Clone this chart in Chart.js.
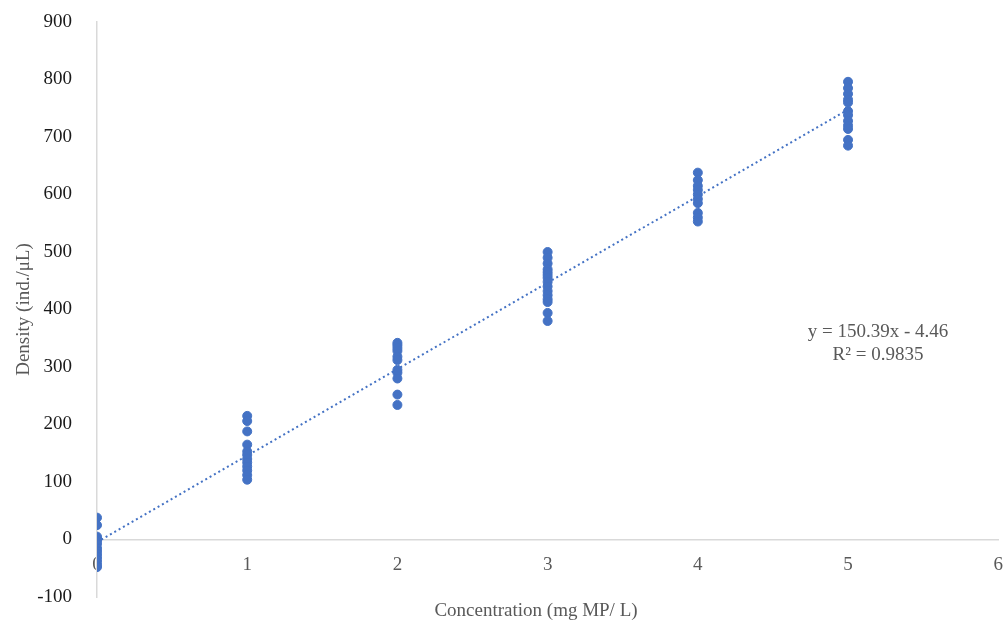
<!DOCTYPE html>
<html>
<head>
<meta charset="utf-8">
<script src="https://cdn.jsdelivr.net/npm/chart.js@4/dist/chart.umd.min.js"></script>
<style>
  html, body { margin: 0; padding: 0; background: #fff; overflow: hidden; }
  #wrap { width: 1003px; height: 624px; overflow: hidden; }
</style>
</head>
<body>
<div id="wrap"><canvas id="myScatterChart"></canvas></div>
<script>
// concentration (mg MP / L) of each group
var conc = [0, 1, 2, 3, 4, 5];
// measured densities (ind./uL) per concentration
var dens0 = [38, 25, 5, 2, 0, -3, -8, -15, -20, -25, -30, -35, -40, -45, -48];
var dens1 = [215, 206, 188, 165, 153, 147, 140, 134, 127, 120, 112, 104];
var dens2 = [342, 338, 333, 328, 318, 312, 295, 290, 280, 252, 234];
var dens3 = [500, 490, 480, 470, 465, 460, 455, 448, 440, 432, 425, 418, 413, 394, 380];
var dens4 = [638, 625, 615, 608, 600, 592, 585, 568, 560, 553];
var dens5 = [796, 785, 775, 765, 760, 745, 738, 728, 720, 714, 695, 685];
// linear trendline ends (y = 150.39x - 4.46)
var trendX = [0, 5];
var trendY = [-4.46, 747.49];
var eqLines = ['y = 150.39x - 4.46', 'R\u00b2 = 0.9835'];
var xTitle = 'Concentration (mg MP/ L)';

var groups = [dens0, dens1, dens2, dens3, dens4, dens5];
var points = [];
groups.forEach(function (g, i) {
    g.forEach(function (v) { points.push({ x: conc[i], y: v }); });
});
var trend = trendX.map(function (x, i) { return { x: x, y: trendY[i] }; });

var gray = '#595959';
var font = { family: '"Liberation Serif", "Times New Roman", serif', size: 19 };

// equation label and x title drawn at fixed spots like the Excel original
const textBits = {
    id: 'textBits',
    afterDraw: function (chart) {
        var ctx = chart.ctx;
        ctx.save();
        ctx.fillStyle = gray;
        ctx.font = '19px "Liberation Serif", "Times New Roman", serif';
        ctx.textAlign = 'center';
        ctx.textBaseline = 'middle';
        ctx.fillText(eqLines[0], 878, 332);
        ctx.fillText(eqLines[1], 878, 355);
        ctx.fillText(xTitle, 536, 611);
        ctx.restore();
    }
};

const config_scatter = {
    type: 'scatter',
    data: {
        datasets: [{
            label: 'trend',
            type: 'line',
            data: trend,
            borderColor: '#4472C4',
            borderWidth: 2,
            borderDash: [2, 3],
            pointRadius: 0,
            fill: false,
            order: 2
        }, {
            label: 'Density',
            data: points,
            backgroundColor: '#4472C4',
            borderColor: '#4472C4',
            pointRadius: 4.5,
            order: 1
        }]
    },
    options: {
        responsive: false,
        animation: false,
        layout: { padding: { left: 4, top: 0, right: 0, bottom: 0 } },
        plugins: {
            legend: { display: false },
            tooltip: { enabled: false }
        },
        scales: {
            x: {
                type: 'linear',
                position: { y: 0 },
                min: 0,
                max: 6,
                grid: { display: false },
                border: { display: true, color: '#d9d9d9', width: 1.5 },
                ticks: { stepSize: 1, color: gray, font: font, padding: 6 }
            },
            y: {
                type: 'linear',
                min: -100,
                max: 900,
                grid: { display: false },
                border: { display: true, color: '#d9d9d9', width: 1.5 },
                ticks: { stepSize: 100, color: '#1a1a1a', font: font, padding: 17 },
                title: {
                    display: true,
                    text: 'Density (ind./\u03bcL)',
                    color: gray,
                    font: font,
                    padding: { top: 9, bottom: 0 }
                },
                afterFit: function (scale) {
                    scale.width = 93;
                    scale.paddingTop = 22;
                    scale.paddingBottom = 27;
                }
            }
        }
    },
    plugins: [textBits]
};

var canvas = document.getElementById('myScatterChart');
canvas.width = 1009;
canvas.height = 624;
var myChart = new Chart(canvas, config_scatter);
</script>
</body>
</html>
